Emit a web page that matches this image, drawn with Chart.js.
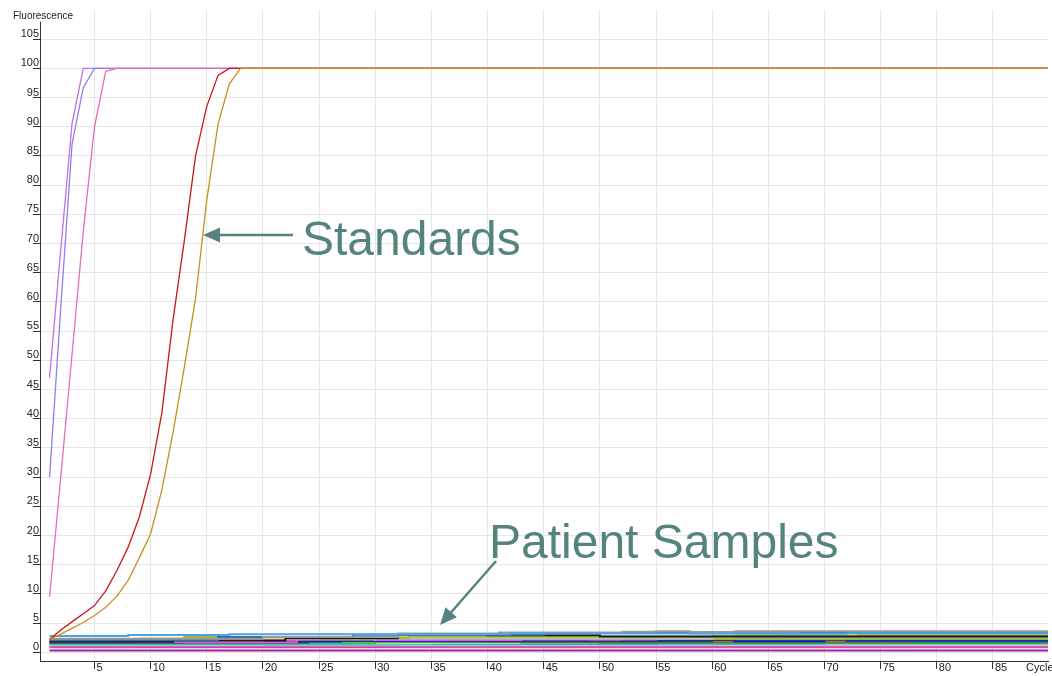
<!DOCTYPE html>
<html>
<head>
<meta charset="utf-8">
<title>Fluorescence vs Cycle</title>
<script src="https://cdn.jsdelivr.net/npm/chart.js@4.4.1/dist/chart.umd.min.js"></script>
<style>
  html, body { margin: 0; padding: 0; background: #fff; }
  #wrap { width: 1052px; height: 676px; }
</style>
</head>
<body>
<div id="wrap"><canvas id="pcrChart" width="1052" height="676"></canvas></div>
<script>
// axis text and ticks
const yTitle = "Fluorescence";
const xTitle = "Cycle";
const xTickValues = [5, 10, 15, 20, 25, 30, 35, 40, 45, 50, 55, 60, 65, 70, 75, 80, 85];
const yTickValues = [0, 5, 10, 15, 20, 25, 30, 35, 40, 45, 50, 55, 60, 65, 70, 75, 80, 85, 90, 95, 100, 105];
const lastCycle = 90;

// standards: fluorescence per cycle, starting at cycle 1 (plateau at 100 up to lastCycle)
const stdOrange = [2.2, 3.1, 4.1, 5.1, 6.3, 7.7, 9.6, 12.3, 16.2, 20.3, 27.8, 37.7, 48.8, 60.6, 77.5, 90.4, 97.3, 100];
const stdRed = [2.2, 3.8, 5.2, 6.6, 8.0, 10.5, 14.0, 18.0, 23.2, 30.5, 41, 57, 70.5, 85, 93.5, 98.8, 100];
const stdPink = [9.5, 30, 51, 72, 90, 99.5, 100];
const stdBlue = [30, 59, 87, 96.7, 100];
const stdPurple = [47, 69, 90.5, 100];

// patient samples: [cycle, value] where each step level begins
const psLightBlue = [[1, 2.8], [8, 2.95], [17, 3.1], [42, 3.2], [66, 3.15], [72, 3.25], [90, 3.2]];
const psGray = [[1, 2.3], [20, 2.6], [32, 3.2], [41, 3.4], [52, 3.5], [55, 3.6], [58, 3.45], [62, 3.6], [90, 3.6]];
const psSteel = [[1, 2.05], [16, 2.6], [28, 3.0], [45, 3.3], [58, 3.25], [68, 3.35], [82, 3.45], [84, 3.3], [90, 3.3]];
const psBlack = [[1, 1.8], [12, 2.0], [22, 2.4], [32, 3.05], [40, 2.9], [50, 2.7], [90, 2.7]];
const psOlive = [[1, 1.9], [7, 2.2], [13, 2.6], [25, 2.5], [33, 2.65], [60, 2.75], [73, 2.9], [90, 2.8]];
const psYellow = [[1, 2.1], [9, 2.4], [30, 2.6], [62, 2.95], [75, 2.75], [90, 2.9]];
const psLilac = [[1, 2.25], [25, 2.35], [60, 2.55], [90, 2.5]];
const psLime = [[1, 2.0], [10, 2.3], [40, 2.25], [90, 2.3]];
const psSalmon = [[1, 1.95], [20, 2.2], [30, 2.4], [50, 2.45], [63, 2.65], [68, 2.45], [90, 2.5]];
const psMagenta = [[1, 1.7], [23, 2.3], [30, 2.1], [43, 2.2], [55, 2.6], [59, 2.35], [72, 2.4], [90, 2.4]];
const psNavy = [[1, 1.65], [24, 2.05], [36, 1.9], [60, 2.15], [90, 2.1]];
const psBlue = [[1, 1.85], [27, 1.95], [45, 2.1], [49, 2.3], [52, 2.1], [62, 1.9], [70, 2.2], [72, 1.95], [90, 2.0]];
const psBrown = [[1, 1.75], [20, 1.95], [26, 2.0], [40, 1.85], [78, 1.95], [90, 2.0]];
const psDarkGreen = [[1, 1.6], [13, 1.75], [19, 1.9], [43, 1.65], [90, 1.7]];
const psGreen = [[1, 1.5], [12, 1.55], [30, 1.7], [50, 1.6], [90, 1.55]];
const psPaleCyan = [[1, 1.55], [35, 1.6], [60, 1.75], [90, 1.8]];
const psTeal = [[1, 1.4], [28, 1.45], [55, 1.5], [90, 1.45]];
const psAqua = [[1, 1.25], [20, 1.3], [47, 1.35], [70, 1.55], [90, 1.5]];
const psPinkMag = [[1, 1.0], [9, 1.1], [32, 1.0], [90, 1.05]];
const psRose = [[1, 0.85], [50, 0.85], [90, 0.85]];
const psPurple = [[1, 0.3], [90, 0.3]];

const standards = [
  [stdOrange, "#c8901e"],
  [stdRed, "#c81818"],
  [stdPink, "#e070b8"],
  [stdBlue, "#8a80ee"],
  [stdPurple, "#c070e8"]
];

const patients = [
  [psLightBlue, "#4aa3ee"], [psGray, "#999999"], [psSteel, "#2f6fa8"], [psBlack, "#1a1a1a"],
  [psOlive, "#a5b82c"], [psYellow, "#e8e070"], [psLilac, "#c8b0f0"], [psLime, "#88c030"],
  [psSalmon, "#ff9f80"], [psMagenta, "#ff40ff"], [psNavy, "#1c3c80"], [psBlue, "#1010e0"],
  [psBrown, "#c0602a"], [psDarkGreen, "#178f4a"], [psGreen, "#3cc060"], [psPaleCyan, "#b8f0e0"],
  [psTeal, "#20a8a0"], [psAqua, "#70e0d0"], [psPinkMag, "#d060b0"], [psRose, "#d040a0"],
  [psPurple, "#a020a0"]
];

const datasets = [];
standards.forEach(([vals, color]) => {
  const pts = vals.map((v, i) => ({ x: i + 1, y: v }));
  pts.push({ x: lastCycle, y: vals[vals.length - 1] });
  datasets.push({ data: pts, borderColor: color, borderWidth: 1.3, pointRadius: 0, tension: 0 });
});
patients.forEach(([steps, color]) => {
  datasets.push({
    data: steps.map(([c, v]) => ({ x: c, y: v })),
    borderColor: color, borderWidth: 2, pointRadius: 0, stepped: true
  });
});

const tickFont = { family: '"Liberation Sans", Arial, sans-serif', size: 11 };
const calloutColor = "#55847f";

function drawArrow(ctx, x1, y1, x2, y2) {
  const dx = x2 - x1, dy = y2 - y1;
  const len = Math.hypot(dx, dy);
  const ux = dx / len, uy = dy / len;
  const headLen = 17, half = 7.5;
  const bx = x2 - ux * headLen, by = y2 - uy * headLen;
  ctx.beginPath();
  ctx.moveTo(x1, y1);
  ctx.lineTo(bx + ux * 2, by + uy * 2);
  ctx.stroke();
  ctx.beginPath();
  ctx.moveTo(x2, y2);
  ctx.lineTo(bx - uy * half, by + ux * half);
  ctx.lineTo(bx + uy * half, by - ux * half);
  ctx.closePath();
  ctx.fill();
}

const callouts = {
  id: "callouts",
  afterDraw(chart) {
    const ctx = chart.ctx;
    const area = chart.chartArea;
    const yScale = chart.scales.y;
    ctx.save();
    // y axis line (stops a bit below the top of the grid)
    ctx.strokeStyle = "#333";
    ctx.lineWidth = 1;
    ctx.beginPath();
    ctx.moveTo(Math.round(area.left) + 0.5, yScale.getPixelForValue(108));
    ctx.lineTo(Math.round(area.left) + 0.5, area.bottom);
    ctx.stroke();

    ctx.fillStyle = "#222";
    ctx.textBaseline = "middle";
    ctx.font = '10px "Liberation Sans", Arial, sans-serif';
    ctx.fillText(yTitle, 13, 16);
    ctx.font = '11px "Liberation Sans", Arial, sans-serif';
    ctx.fillText(xTitle, 1026, 668);

    // callout labels
    ctx.fillStyle = calloutColor;
    ctx.strokeStyle = calloutColor;
    ctx.lineWidth = 2.5;
    ctx.textBaseline = "alphabetic";
    ctx.font = '48px "Liberation Sans", Arial, sans-serif';
    ctx.fillText("Standards", 302, 255);
    ctx.fillText("Patient Samples", 489, 558);
    drawArrow(ctx, 293, 235, 203, 235);
    drawArrow(ctx, 496, 561, 440, 625);
    ctx.restore();
  }
};

new Chart(document.getElementById("pcrChart").getContext("2d"), {
  type: "line",
  data: { datasets },
  options: {
    responsive: false,
    animation: false,
    layout: { padding: { top: 10, right: 4, left: 0, bottom: 0 } },
    plugins: { legend: { display: false }, tooltip: { enabled: false } },
    scales: {
      x: {
        type: "linear",
        min: 0.15,
        max: 89.9,
        afterBuildTicks: (scale) => { scale.ticks = xTickValues.map(v => ({ value: v })); },
        afterFit: (scale) => { scale.height = 15; },
        grid: { color: "#e6e6e6", tickColor: "#333", tickLength: 8 },
        border: { color: "#333" },
        ticks: { font: tickFont, color: "#222", align: "start", labelOffset: 2, padding: -8, maxRotation: 0, autoSkip: false }
      },
      y: {
        min: -1.5,
        max: 110,
        afterBuildTicks: (scale) => { scale.ticks = yTickValues.map(v => ({ value: v })); },
        afterFit: (scale) => { scale.width = 40; },
        grid: { color: "#e6e6e6", tickColor: "#333", tickLength: 7 },
        border: { display: false },
        ticks: { font: tickFont, color: "#222", padding: -6, labelOffset: -5, autoSkip: false }
      }
    }
  },
  plugins: [callouts]
});
</script>
</body>
</html>
